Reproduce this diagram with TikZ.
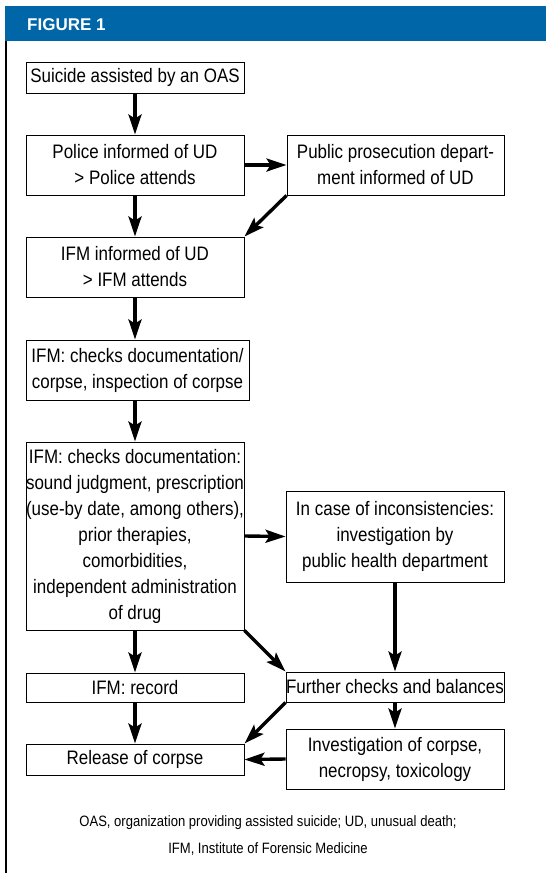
\documentclass[tikz,border=0pt]{standalone}
\usepackage{fontspec}
\setmainfont{Liberation Sans}[FakeStretch=0.87]
\newfontfamily\headfont{Liberation Sans}
\usetikzlibrary{arrows.meta,calc}
\definecolor{headblue}{HTML}{0066A8}
\begin{document}
\begin{tikzpicture}[x=1pt,y=-1pt,
  box/.style={draw=black, line width=0.9pt, fill=white, inner sep=0pt, align=center,
    font=\fontsize{19.5}{26}\selectfont},
  arr/.style={line width=3.4pt, -{Stealth[length=20pt,width=13pt,inset=4pt]}},
  note/.style={font=\fontsize{15}{18}\selectfont, inner sep=0pt}]
\useasboundingbox (0,0) rectangle (546,873);
\fill[white] (0,0) rectangle (546,873);
\fill[headblue] (5,6) rectangle (546,41);
\node[anchor=base west, text=white, inner sep=0pt, font=\headfont\bfseries\fontsize{17}{20}\selectfont] (title) at (27,30) {FIGURE 1};
\draw[line width=2pt] (6,41) -- (6,873);

\node[box, minimum width=218pt, minimum height=31pt] (b1) at (135,77.5) {Suicide assisted by an OAS};
\node[box, minimum width=218pt, minimum height=60pt] (b2) at (135,165) {Police informed of UD\\ \textgreater{} Police attends};
\node[box, minimum width=217pt, minimum height=60pt] (b3) at (395.5,165) {Public prosecution depart-\\ment informed of UD};
\node[box, minimum width=218pt, minimum height=60pt] (b4) at (135,267) {IFM informed of UD\\ \textgreater{} IFM attends};
\node[box, minimum width=223pt, minimum height=60pt] (b5) at (137.5,370) {IFM: checks documentation/\\corpse, inspection of corpse};
\node[box, minimum width=218pt, minimum height=188pt] (b6) at (135,536) {IFM: checks documentation:\\sound judgment, prescription\\(use-by date, among others),\\prior therapies,\\comorbidities,\\independent administration\\of drug};
\node[box, minimum width=218pt, minimum height=91pt] (b7) at (395,536.5) {In case of inconsistencies:\\investigation by\\public health department};
\node[box, minimum width=218pt, minimum height=29pt] (b8) at (135,687.5) {IFM: record};
\node[box, minimum width=218pt, minimum height=30pt] (b9) at (395,687) {Further checks and balances};
\node[box, minimum width=218pt, minimum height=31pt] (b10) at (135,759.5) {Release of corpse};
\node[box, minimum width=218pt, minimum height=60pt] (b11) at (395,759) {Investigation of corpse,\\necropsy, toxicology};

\draw[arr] (b1.south) -- (b2.north);
\draw[arr] (b2.east) -- (b3.west);
\draw[arr] (b3.south west) -- (b4.north east);
\draw[arr] (b2.south) -- (b4.north);
\draw[arr] (b4.south) -- (b4.south |- b5.north);
\draw[arr] (b6.north |- b5.south) -- (b6.north);
\draw[arr] (b6.east) -- (b7.west);
\draw[arr] (b7.south) -- (b9.north);
\draw[arr] (b6.south) -- (b8.north);
\draw[arr] (b6.south east) -- (b9.north west);
\draw[arr] (b8.south) -- (b10.north);
\draw[arr] (b9.south west) -- (b10.north east);
\draw[arr] (b9.south) -- (b11.north);
\draw[arr] (b11.west) -- (b10.east);

\node[note] (n1) at (268,823) {OAS, organization providing assisted suicide; UD, unusual death;};
\node[note] (n2) at (268,849) {IFM, Institute of Forensic Medicine};
\end{tikzpicture}
\end{document}
